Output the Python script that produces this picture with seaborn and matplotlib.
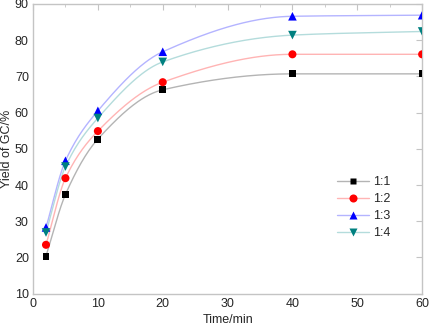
import numpy as np
import pandas as pd
import matplotlib
matplotlib.use("Agg")
import matplotlib.pyplot as plt
import seaborn as sns
from matplotlib.lines import Line2D
from matplotlib.ticker import MultipleLocator

time_min = [2, 5, 10, 20, 40, 60]
ratio_11 = [20.4, 37.4, 52.7, 66.3, 70.7, 70.7]
ratio_12 = [23.5, 41.9, 54.9, 68.4, 76.1, 76.1]
ratio_13 = [28.3, 46.7, 60.5, 76.8, 86.6, 86.9]
ratio_14 = [26.9, 45.1, 58.5, 74.0, 81.4, 82.4]
labels = ["1:1", "1:2", "1:3", "1:4"]

marker_colors = ["#000000", "#ff0000", "#0000ff", "#008080"]
line_colors = ["#b4b4b4", "#ffb4b4", "#b4b4ff", "#b4dcdc"]
markers = ["s", "o", "^", "v"]
msizes = [5, 5.8, 6.2, 6.2]


def pchip(x, y, xs):
    # monotone cubic curve, just for the connecting lines
    x = np.asarray(x, float)
    y = np.asarray(y, float)
    h = np.diff(x)
    d = np.diff(y) / h
    m = np.zeros_like(y)
    for k in range(1, len(x) - 1):
        if d[k - 1] * d[k] > 0:
            w1 = 2 * h[k] + h[k - 1]
            w2 = h[k] + 2 * h[k - 1]
            m[k] = (w1 + w2) / (w1 / d[k - 1] + w2 / d[k])
    m[0] = d[0]
    m[-1] = d[-1]
    out = np.empty_like(xs)
    for i, xv in enumerate(xs):
        k = min(np.searchsorted(x, xv, side="right") - 1, len(x) - 2)
        t = (xv - x[k]) / h[k]
        h00 = 2 * t**3 - 3 * t**2 + 1
        h10 = t**3 - 2 * t**2 + t
        h01 = -2 * t**3 + 3 * t**2
        h11 = t**3 - t**2
        out[i] = h00 * y[k] + h10 * h[k] * m[k] + h01 * y[k + 1] + h11 * h[k] * m[k + 1]
    return out


df = pd.DataFrame({"time": time_min * 4,
                   "yield": ratio_11 + ratio_12 + ratio_13 + ratio_14,
                   "ratio": sum([[l] * len(time_min) for l in labels], [])})

sns.set_style("white")
plt.rcParams["font.family"] = ["Liberation Sans", "DejaVu Sans"]

fig, ax = plt.subplots(figsize=(4.29, 3.30), dpi=100)
fig.subplots_adjust(left=0.077, right=0.984, top=0.988, bottom=0.11)

xs = np.linspace(2, 60, 300)
handles = []
for i, lab in enumerate(labels):
    sub = df[df["ratio"] == lab]
    ax.plot(xs, pchip(sub["time"], sub["yield"], xs), color=line_colors[i], lw=1, zorder=1)
    sns.scatterplot(data=sub, x="time", y="yield", marker=markers[i], color=marker_colors[i],
                    s=msizes[i] ** 2, edgecolor="none", ax=ax, zorder=3, legend=False)
    handles.append(Line2D([], [], color=line_colors[i], lw=1, marker=markers[i],
                          markerfacecolor=marker_colors[i], markeredgecolor="none",
                          markersize=msizes[i]))

ax.set_xlim(0, 60)
ax.set_ylim(10, 90)
ax.xaxis.set_major_locator(MultipleLocator(10))
ax.xaxis.set_minor_locator(MultipleLocator(5))
ax.yaxis.set_major_locator(MultipleLocator(10))
for s in ax.spines.values():
    s.set_color("#c4c4c4")
    s.set_linewidth(1)
ax.tick_params(which="both", direction="in", color="#c4c4c4", top=True, right=True,
               labelsize=9, pad=3)
ax.tick_params(which="major", length=4)
ax.tick_params(which="minor", length=2.5)
ax.set_xlabel("Time/min", fontsize=9, labelpad=3)
ax.set_ylabel("Yield of GC/%", fontsize=9, labelpad=1)

ax.legend(handles, labels, loc="upper left", bbox_to_anchor=(0.755, 0.44), frameon=False,
          fontsize=9, handlelength=2.6, handletextpad=0.3, labelspacing=0.4,
          borderpad=0.3)

fig.savefig("out.png", dpi=100)
